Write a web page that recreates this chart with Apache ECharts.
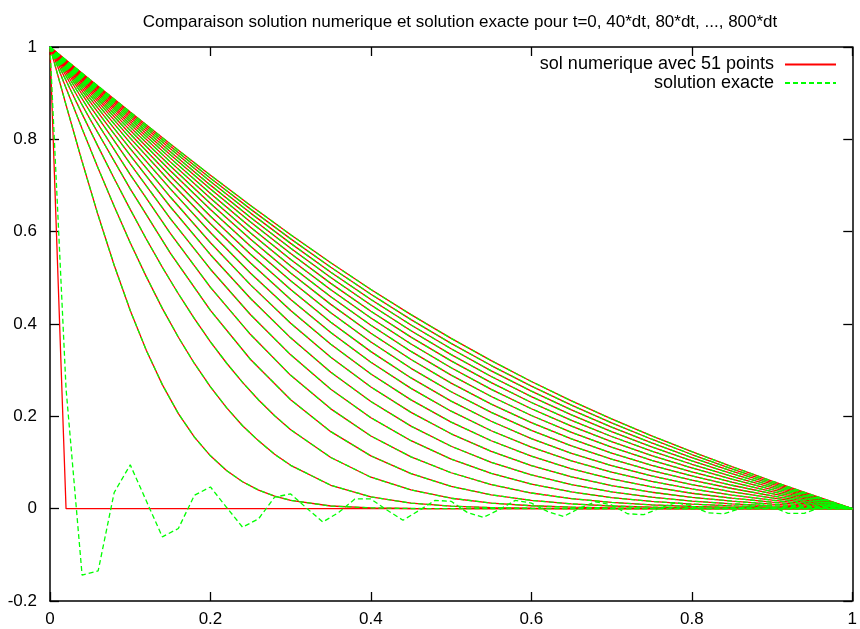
<!DOCTYPE html>
<html>
<head>
<meta charset="utf-8">
<script src="https://cdn.jsdelivr.net/npm/echarts@6/dist/echarts.min.js"></script>
<style>
  html, body { margin: 0; padding: 0; background: #fff; }
  #chart { width: 860px; height: 629px; }
</style>
</head>
<body>
<div id="chart"></div>
<script>
// Heat equation profiles u(x,t): numerical scheme (51 points) vs exact solution,
// sampled every 40 time steps from t=0 to t=800*dt.

const FONT = '"Liberation Sans", Arial, Helvetica, sans-serif';

// x grids
const xsExact = [0, 0.02, 0.04, 0.06, 0.08, 0.1, 0.12, 0.14, 0.16, 0.18, 0.2, 0.22, 0.24, 0.26, 0.28, 0.3,
  0.32, 0.34, 0.36, 0.38, 0.4, 0.42, 0.44, 0.46, 0.48, 0.5, 0.52, 0.54, 0.56, 0.58, 0.6, 0.62, 0.64, 0.66,
  0.68, 0.7, 0.72, 0.74, 0.76, 0.78, 0.8, 0.82, 0.84, 0.86, 0.88, 0.9, 0.92, 0.94, 0.96, 0.98, 1];
const xsFine = [0, 0.02, 0.04, 0.06, 0.08, 0.1, 0.12, 0.14, 0.16, 0.18, 0.2, 0.22, 0.24, 0.26, 0.28, 0.3,
  0.35, 0.4, 0.45, 0.5, 0.55, 0.6, 0.65, 0.7, 0.75, 0.8, 0.85, 0.9, 0.95, 1];
const xsCoarse = [0, 0.05, 0.1, 0.15, 0.2, 0.25, 0.3, 0.35, 0.4, 0.45, 0.5, 0.55, 0.6, 0.65, 0.7, 0.75,
  0.8, 0.85, 0.9, 0.95, 1];
const xsStep = [0, 0.02, 1];

// t = 0
const uNum0 = [1, 0, 0];
const uExact0 = [1, 0.26, -0.144, -0.135, 0.035, 0.095, 0.017, -0.061, -0.043, 0.029, 0.047, 0.003, -0.040,
  -0.022, 0.025, 0.032, 0.001, -0.029, -0.008, 0.021, 0.021, -0.003, -0.025, -0.004, 0.018, 0.016, -0.008,
  -0.019, -0.002, 0.018, 0.012, -0.006, -0.017, 0.001, 0.015, 0.008, -0.011, -0.013, 0.001, 0.013, 0.006,
  -0.009, -0.011, 0, 0.011, 0.004, -0.010, -0.010, 0.002, 0.006, 0];

// early times (on xsFine)
const u40dt = [1, 0.8744, 0.7520, 0.6354, 0.5272, 0.4294, 0.3431, 0.2687, 0.2060, 0.1550, 0.1144, 0.0826,
  0.0584, 0.0403, 0.0272, 0.0179, 0.0058, 0.0017, 0.0004, 0.0001, 0, 0, 0, 0, 0, 0, 0, 0, 0, 0];
const u80dt = [1, 0.9110, 0.8231, 0.7374, 0.6549, 0.5762, 0.5026, 0.4339, 0.3713, 0.3145, 0.2637, 0.2190,
  0.1797, 0.1469, 0.1177, 0.0939, 0.0507, 0.0256, 0.0120, 0.0053, 0.0022, 0.0009, 0.0003, 0.0001, 0, 0, 0, 0, 0, 0];
const u120dt = [1, 0.9273, 0.8552, 0.7842, 0.7151, 0.6483, 0.5841, 0.5229, 0.4655, 0.4116, 0.3614, 0.3155,
  0.2736, 0.2355, 0.2013, 0.1711, 0.1109, 0.0681, 0.0405, 0.0226, 0.0122, 0.0063, 0.0033, 0.0015, 0.0007,
  0.0003, 0.0001, 0, 0, 0];

// later times (on xsCoarse)
const u160dt = [1, 0.8434, 0.6928, 0.5535, 0.4294, 0.3231, 0.2359, 0.1668, 0.1144, 0.0760, 0.0482, 0.0301, 0.0179, 0.0103, 0.0058, 0.0033, 0.0017, 0.0008, 0.0004, 0.0001, 0];
const u200dt = [1, 0.8598, 0.7237, 0.5961, 0.4795, 0.3771, 0.2888, 0.2162, 0.1573, 0.1123, 0.0778, 0.0523, 0.0339, 0.0218, 0.0136, 0.0081, 0.0047, 0.0028, 0.0015, 0.0006, 0];
const u240dt = [1, 0.8719, 0.7470, 0.6284, 0.5187, 0.4200, 0.3332, 0.2587, 0.1969, 0.1472, 0.1074, 0.0766, 0.0533, 0.0362, 0.0239, 0.0156, 0.0099, 0.0060, 0.0035, 0.0016, 0];
const u280dt = [1, 0.8813, 0.7651, 0.6540, 0.5501, 0.4551, 0.3700, 0.2956, 0.2320, 0.1787, 0.1352, 0.1003, 0.0730, 0.0521, 0.0364, 0.0248, 0.0165, 0.0105, 0.0061, 0.0028, 0];
const u320dt = [1, 0.8889, 0.7799, 0.6750, 0.5761, 0.4847, 0.4017, 0.3279, 0.2635, 0.2085, 0.1622, 0.1242, 0.0934, 0.0691, 0.0501, 0.0356, 0.0245, 0.0162, 0.0098, 0.0046, 0];
const u360dt = [1, 0.8952, 0.7922, 0.6926, 0.5982, 0.5100, 0.4292, 0.3563, 0.2918, 0.2356, 0.1876, 0.1471, 0.1136, 0.0864, 0.0645, 0.0471, 0.0334, 0.0227, 0.0140, 0.0066, 0];
const u400dt = [1, 0.9005, 0.8026, 0.7077, 0.6171, 0.5320, 0.4532, 0.3815, 0.3173, 0.2605, 0.2111, 0.1688, 0.1332, 0.1034, 0.0790, 0.0590, 0.0428, 0.0295, 0.0185, 0.0089, 0];
const u440dt = [1, 0.9051, 0.8116, 0.7207, 0.6335, 0.5512, 0.4745, 0.4040, 0.3402, 0.2832, 0.2330, 0.1893, 0.1518, 0.1200, 0.0933, 0.0709, 0.0523, 0.0366, 0.0232, 0.0112, 0];
const u480dt = [1, 0.9092, 0.8195, 0.7321, 0.6480, 0.5682, 0.4935, 0.4243, 0.3610, 0.3040, 0.2532, 0.2085, 0.1695, 0.1359, 0.1071, 0.0826, 0.0617, 0.0437, 0.0279, 0.0136, 0];
const u520dt = [1, 0.9127, 0.8264, 0.7422, 0.6609, 0.5835, 0.5105, 0.4425, 0.3800, 0.3231, 0.2719, 0.2263, 0.1862, 0.1510, 0.1205, 0.0940, 0.0709, 0.0507, 0.0326, 0.0159, 0];
const u560dt = [1, 0.9159, 0.8326, 0.7512, 0.6725, 0.5971, 0.5258, 0.4591, 0.3973, 0.3406, 0.2892, 0.2430, 0.2018, 0.1653, 0.1331, 0.1048, 0.0798, 0.0574, 0.0371, 0.0182, 0];
const u600dt = [1, 0.9187, 0.8382, 0.7593, 0.6829, 0.6095, 0.5398, 0.4742, 0.4131, 0.3568, 0.3052, 0.2585, 0.2164, 0.1787, 0.1451, 0.1151, 0.0882, 0.0638, 0.0415, 0.0204, 0];
const u640dt = [1, 0.9212, 0.8432, 0.7666, 0.6923, 0.6207, 0.5525, 0.4880, 0.4276, 0.3716, 0.3200, 0.2729, 0.2300, 0.1913, 0.1563, 0.1248, 0.0962, 0.0699, 0.0456, 0.0225, 0];
const u680dt = [1, 0.9235, 0.8477, 0.7733, 0.7008, 0.6309, 0.5640, 0.5006, 0.4410, 0.3853, 0.3337, 0.2862, 0.2427, 0.2030, 0.1669, 0.1339, 0.1037, 0.0757, 0.0495, 0.0244, 0];
const u720dt = [1, 0.9256, 0.8519, 0.7794, 0.7086, 0.6402, 0.5746, 0.5122, 0.4532, 0.3979, 0.3463, 0.2985, 0.2545, 0.2139, 0.1767, 0.1424, 0.1107, 0.0811, 0.0532, 0.0263, 0];
const u760dt = [1, 0.9275, 0.8557, 0.7849, 0.7158, 0.6488, 0.5844, 0.5228, 0.4645, 0.4095, 0.3580, 0.3100, 0.2654, 0.2241, 0.1859, 0.1504, 0.1173, 0.0862, 0.0566, 0.0280, 0];
const u800dt = [1, 0.9293, 0.8591, 0.7899, 0.7223, 0.6566, 0.5933, 0.5326, 0.4748, 0.4202, 0.3688, 0.3206, 0.2755, 0.2335, 0.1944, 0.1578, 0.1234, 0.0909, 0.0598, 0.0297, 0];

const xTicks = [0, 0.2, 0.4, 0.6, 0.8, 1];
const yTicks = [-0.2, 0, 0.2, 0.4, 0.6, 0.8, 1];

const NUM_NAME = 'sol numerique avec 51 points';
const EXACT_NAME = 'solution exacte';
const RED = '#ff0000';
const GREEN = '#00ff00';
const DASH = [5, 3];

const fineCurves = [u40dt, u80dt, u120dt];
const coarseCurves = [u160dt, u200dt, u240dt, u280dt, u320dt, u360dt, u400dt, u440dt, u480dt,
  u520dt, u560dt, u600dt, u640dt, u680dt, u720dt, u760dt, u800dt];

function pairs(xs, ys) { return xs.map((x, i) => [x, ys[i]]); }

function lineSeries(name, data, color, dashed) {
  return {
    type: 'line', name, data, symbol: 'none', silent: true,
    lineStyle: { color, width: 1.3, type: dashed ? DASH : 'solid' },
    itemStyle: { color },
    emphasis: { disabled: true }
  };
}

const series = [];
series.push(lineSeries(NUM_NAME, pairs(xsStep, uNum0), RED, false));
fineCurves.forEach(c => series.push(lineSeries(NUM_NAME, pairs(xsFine, c), RED, false)));
coarseCurves.forEach(c => series.push(lineSeries(NUM_NAME, pairs(xsCoarse, c), RED, false)));
series.push(lineSeries(EXACT_NAME, pairs(xsExact, uExact0), GREEN, true));
fineCurves.forEach(c => series.push(lineSeries(EXACT_NAME, pairs(xsFine, c), GREEN, true)));
coarseCurves.forEach(c => series.push(lineSeries(EXACT_NAME, pairs(xsCoarse, c), GREEN, true)));

const labelStyle = { color: '#000', fontSize: 17, fontFamily: FONT };
const lineBlack = { show: true, onZero: false, lineStyle: { color: '#000', width: 1.5 } };
const tickIn = { show: true, inside: true, length: 9, lineStyle: { color: '#000', width: 1.3 } };

function xAxis(position, showLabels) {
  return {
    type: 'value', position, min: xTicks[0], max: xTicks[xTicks.length - 1],
    interval: xTicks[1] - xTicks[0],
    axisLine: lineBlack, axisTick: tickIn, splitLine: { show: false },
    axisLabel: Object.assign({ show: showLabels, margin: 10 }, labelStyle)
  };
}
function yAxis(position, showLabels) {
  return {
    type: 'value', position, min: yTicks[0], max: yTicks[yTicks.length - 1],
    interval: yTicks[1] - yTicks[0],
    axisLine: lineBlack, axisTick: tickIn, splitLine: { show: false },
    axisLabel: Object.assign({ show: showLabels, margin: 13,
      formatter: v => String(Math.round(v * 10) / 10) }, labelStyle)
  };
}

// legend: text on the left, line sample on the right, no marker
const legendCommon = {
  orient: 'vertical', align: 'right', right: 23, itemWidth: 51, itemHeight: 18,
  selectedMode: false, padding: 0,
  itemStyle: { opacity: 0, borderWidth: 0 },
  textStyle: { color: '#000', fontSize: 18, fontFamily: FONT, padding: [0, 6, 0, 0] }
};

const chart = echarts.init(document.getElementById('chart'), null, { renderer: 'canvas' });
chart.setOption({
  animation: false,
  backgroundColor: '#fff',
  title: {
    text: 'Comparaison solution numerique et solution exacte pour t=0, 40*dt, 80*dt, ..., 800*dt',
    left: 455, top: 9, textAlign: 'center',
    textStyle: { color: '#000', fontSize: 17, fontWeight: 'normal', fontFamily: FONT }
  },
  legend: [
    Object.assign({ data: [NUM_NAME], top: 55.5 }, legendCommon),
    Object.assign({ data: [EXACT_NAME], top: 74 }, legendCommon)
  ],
  grid: { left: 50, right: 5, top: 47, bottom: 28, containLabel: false },
  xAxis: [xAxis('bottom', true), xAxis('top', false)],
  yAxis: [yAxis('left', true), yAxis('right', false)],
  series
});
</script>
</body>
</html>
